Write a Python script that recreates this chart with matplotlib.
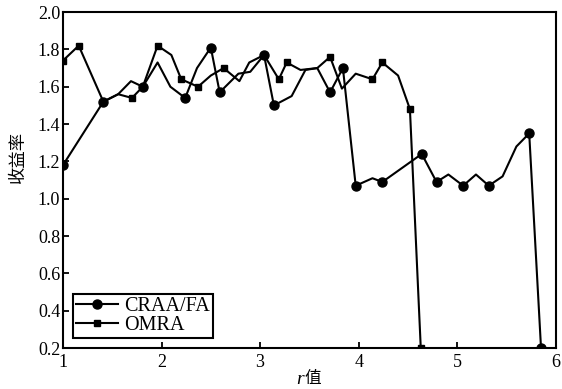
import matplotlib
matplotlib.use('Agg')
import matplotlib.pyplot as plt

plt.rcParams['font.family'] = ['Liberation Serif', 'Noto Sans CJK SC']

# CRAA/FA (circles) - line vertices and marked indices
craa_x = [1.00, 1.41, 1.56, 1.69, 1.81, 1.96, 2.09, 2.24, 2.36, 2.50, 2.59, 2.78, 2.90, 3.04,
          3.14, 3.32, 3.46, 3.58, 3.71, 3.84, 3.97, 4.14, 4.24, 4.64, 4.79, 4.91, 5.06, 5.19,
          5.32, 5.46, 5.60, 5.73, 5.85]
craa_y = [1.18, 1.52, 1.56, 1.63, 1.60, 1.73, 1.60, 1.54, 1.70, 1.81, 1.57, 1.67, 1.68, 1.77,
          1.50, 1.55, 1.69, 1.70, 1.57, 1.70, 1.07, 1.11, 1.09, 1.24, 1.09, 1.13, 1.07, 1.13,
          1.07, 1.12, 1.28, 1.35, 0.20]
craa_marks = [0, 1, 4, 7, 9, 10, 13, 14, 18, 19, 20, 22, 23, 24, 26, 28, 31, 32]

# OMRA (squares)
omra_x = [1.00, 1.16, 1.41, 1.56, 1.70, 1.81, 1.96, 2.10, 2.20, 2.37, 2.50, 2.63, 2.79, 2.89,
          3.04, 3.19, 3.27, 3.41, 3.58, 3.71, 3.83, 3.97, 4.14, 4.24, 4.40, 4.52, 4.63]
omra_y = [1.74, 1.82, 1.52, 1.56, 1.54, 1.60, 1.82, 1.77, 1.64, 1.60, 1.66, 1.70, 1.63, 1.73,
          1.77, 1.64, 1.73, 1.69, 1.70, 1.76, 1.59, 1.67, 1.64, 1.73, 1.66, 1.48, 0.20]
omra_marks = [0, 1, 4, 6, 8, 9, 11, 15, 16, 19, 22, 23, 25, 26]

fig = plt.figure(figsize=(5.62, 3.89), dpi=100)
ax = fig.add_axes([0.112, 0.105, 0.877, 0.864])

ax.plot(craa_x, craa_y, color='black', lw=1.5, marker='o', ms=6.5,
        markevery=craa_marks, label='CRAA/FA')
ax.plot(omra_x, omra_y, color='black', lw=1.5, marker='s', ms=5,
        markevery=omra_marks, label='OMRA')

ax.set_xlim(1, 6)
ax.set_ylim(0.2, 2.0)
ax.set_xticks([1, 2, 3, 4, 5, 6])
ax.set_yticks([0.2, 0.4, 0.6, 0.8, 1.0, 1.2, 1.4, 1.6, 1.8, 2.0])
ax.set_yticklabels(['0.2', '0.4', '0.6', '0.8', '1.0', '1.2', '1.4', '1.6', '1.8', '2.0'])
ax.tick_params(direction='in', length=4, width=1.3, labelsize=13)
ax.tick_params(axis='y', pad=2)
ax.tick_params(axis='x', pad=4)
for s in ax.spines.values():
    s.set_linewidth(1.5)

ax.set_ylabel('收益率', fontsize=12.5, family=['Noto Sans CJK SC'])
ax.yaxis.set_label_coords(-0.072, 0.57)
ax.text(0.488, -0.068, 'r', transform=ax.transAxes, ha='right', va='top',
        fontsize=14, style='italic', family=['Liberation Serif'])
ax.text(0.49, -0.066, '值', transform=ax.transAxes, ha='left', va='top',
        fontsize=12, family=['Noto Sans CJK SC'])

leg = ax.legend(loc='lower left', fontsize=14.5, handlelength=2.1, handletextpad=0.3,
                borderpad=0.15, labelspacing=0.0, fancybox=False, framealpha=1,
                edgecolor='black', borderaxespad=0.5)
leg.get_frame().set_linewidth(1.5)

plt.savefig('out.png', dpi=100)
